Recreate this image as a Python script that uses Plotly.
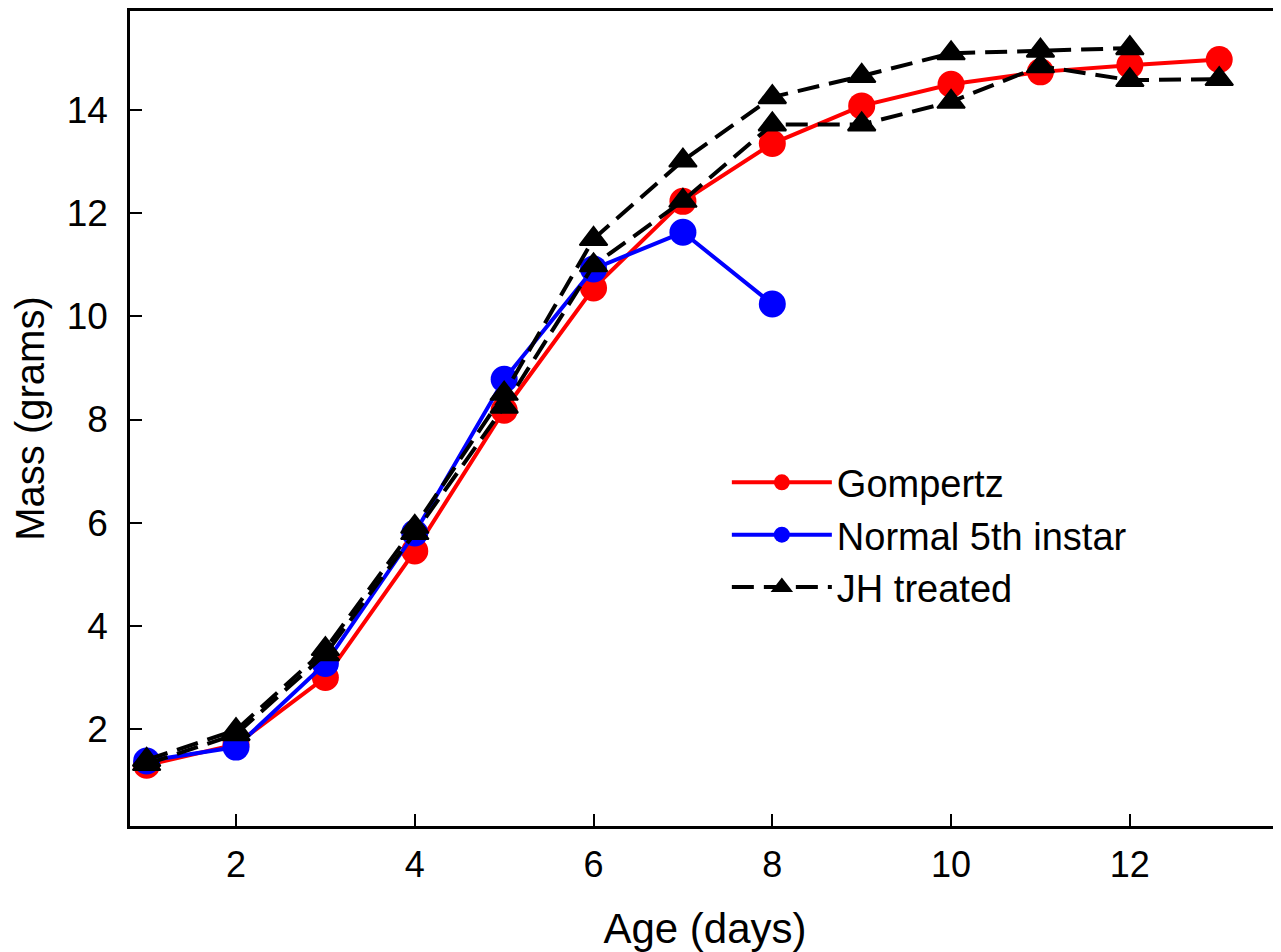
import plotly.graph_objects as go

age_gompertz = [1, 2, 3, 4, 5, 6, 7, 8, 9, 10, 11, 12, 13]
mass_gompertz = [1.30, 1.70, 3.00, 5.45, 8.18, 10.55, 12.23, 13.35, 14.08, 14.50, 14.74, 14.87, 14.98]

age_normal = [1, 2, 3, 4, 5, 6, 7, 8]
mass_normal = [1.38, 1.65, 3.27, 5.80, 8.78, 10.92, 11.63, 10.24]

age_jh_a = [1, 2, 3, 4, 5, 6, 7, 8, 9, 10, 11, 12]
mass_jh_a = [1.40, 1.98, 3.55, 5.92, 8.50, 11.50, 13.02, 14.25, 14.66, 15.10, 15.15, 15.20]

age_jh_b = [1, 2, 3, 4, 5, 6, 7, 8, 9, 10, 11, 12, 13]
mass_jh_b = [1.32, 1.90, 3.45, 5.80, 8.25, 10.99, 12.24, 13.72, 13.72, 14.16, 14.85, 14.58, 14.60]

x_ticks = [2, 4, 6, 8, 10, 12]
y_ticks = [2, 4, 6, 8, 10, 12, 14]

FONT = "Liberation Sans, Arial, sans-serif"

fig = go.Figure()
fig.add_trace(go.Scatter(
    x=age_gompertz, y=mass_gompertz, mode="lines+markers", name="Gompertz",
    line=dict(color="#ff0000", width=4),
    marker=dict(symbol="circle", size=27, color="#ff0000"),
))
fig.add_trace(go.Scatter(
    x=age_normal, y=mass_normal, mode="lines+markers", name="Normal 5th instar",
    line=dict(color="#0000ff", width=4),
    marker=dict(symbol="circle", size=27, color="#0000ff"),
))
fig.add_trace(go.Scatter(
    x=age_jh_a, y=mass_jh_a, mode="lines+markers", name="JH treated",
    legendgroup="jh",
    line=dict(color="#000000", width=4, dash="22px,10px"),
    marker=dict(symbol="triangle-up", size=24, color="#000000",
                line=dict(color="#000000", width=2)),
))
fig.add_trace(go.Scatter(
    x=age_jh_b, y=mass_jh_b, mode="lines+markers", name="JH treated",
    legendgroup="jh", showlegend=False,
    line=dict(color="#000000", width=4, dash="22px,10px"),
    marker=dict(symbol="triangle-up", size=24, color="#000000",
                line=dict(color="#000000", width=2)),
))

# The page body has an 8px default margin, so the figure is sized/offset to compensate.
fig.update_layout(
    width=1273, height=944,
    margin=dict(l=122, r=1, t=3, b=126, autoexpand=False),
    paper_bgcolor="white", plot_bgcolor="white",
    font=dict(family=FONT, color="black"),
    showlegend=True,
    legend=dict(
        x=0.519, y=0.46, xanchor="left", yanchor="top",
        font=dict(size=38, family=FONT, color="black"),
        itemwidth=100, bgcolor="rgba(0,0,0,0)", borderwidth=0,
        tracegroupgap=0,
    ),
    xaxis=dict(
        range=[0.814, 13.68], tickvals=x_ticks, ticktext=[str(v) for v in x_ticks],
        ticks="inside", ticklen=12, tickwidth=2, tickcolor="black",
        showline=True, linecolor="black", linewidth=2.5, mirror=True,
        showgrid=False, zeroline=False, automargin=False,
        tickfont=dict(size=36, family=FONT, color="black"),
        ticklabelstandoff=5,
        title=dict(text="Age (days)", font=dict(size=42, family=FONT, color="black"), standoff=30),
    ),
    yaxis=dict(
        range=[0.12, 15.92], tickvals=y_ticks, ticktext=[str(v) for v in y_ticks],
        ticks="inside", ticklen=12, tickwidth=2, tickcolor="black",
        showline=True, linecolor="black", linewidth=2.5, mirror=False,
        showgrid=False, zeroline=False, automargin=False,
        tickfont=dict(size=37, family=FONT, color="black"),
        ticklabelstandoff=12,
        title=dict(text="Mass (grams)", font=dict(size=40, family=FONT, color="black"), standoff=14),
    ),
)

fig.write_html("out.html")
